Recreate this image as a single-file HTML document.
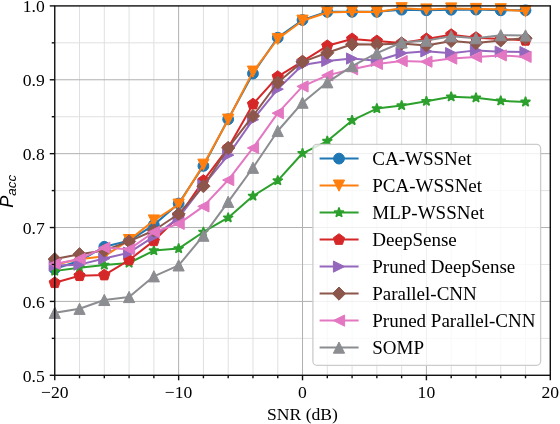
<!DOCTYPE html>
<html><head><meta charset="utf-8"><style>
html,body{margin:0;padding:0;background:#fff;}
body{width:560px;height:424px;overflow:hidden;}
svg{display:block;will-change:transform;}
text{font-family:"Liberation Serif",serif;fill:#000;}
</style></head><body>
<svg width="560" height="424" viewBox="0 0 560 424">
<rect x="0" y="0" width="560" height="424" fill="#fff"/>

<line x1="79.53" y1="5.9" x2="79.53" y2="375.3" stroke="#dfe0e2" stroke-width="1"/>
<line x1="104.3" y1="5.9" x2="104.3" y2="375.3" stroke="#dfe0e2" stroke-width="1"/>
<line x1="129.08" y1="5.9" x2="129.08" y2="375.3" stroke="#dfe0e2" stroke-width="1"/>
<line x1="153.86" y1="5.9" x2="153.86" y2="375.3" stroke="#dfe0e2" stroke-width="1"/>
<line x1="203.41" y1="5.9" x2="203.41" y2="375.3" stroke="#dfe0e2" stroke-width="1"/>
<line x1="228.19" y1="5.9" x2="228.19" y2="375.3" stroke="#dfe0e2" stroke-width="1"/>
<line x1="252.97" y1="5.9" x2="252.97" y2="375.3" stroke="#dfe0e2" stroke-width="1"/>
<line x1="277.75" y1="5.9" x2="277.75" y2="375.3" stroke="#dfe0e2" stroke-width="1"/>
<line x1="327.3" y1="5.9" x2="327.3" y2="375.3" stroke="#dfe0e2" stroke-width="1"/>
<line x1="352.08" y1="5.9" x2="352.08" y2="375.3" stroke="#dfe0e2" stroke-width="1"/>
<line x1="376.86" y1="5.9" x2="376.86" y2="375.3" stroke="#dfe0e2" stroke-width="1"/>
<line x1="401.63" y1="5.9" x2="401.63" y2="375.3" stroke="#dfe0e2" stroke-width="1"/>
<line x1="451.19" y1="5.9" x2="451.19" y2="375.3" stroke="#dfe0e2" stroke-width="1"/>
<line x1="475.97" y1="5.9" x2="475.97" y2="375.3" stroke="#dfe0e2" stroke-width="1"/>
<line x1="500.75" y1="5.9" x2="500.75" y2="375.3" stroke="#dfe0e2" stroke-width="1"/>
<line x1="525.52" y1="5.9" x2="525.52" y2="375.3" stroke="#dfe0e2" stroke-width="1"/>
<line x1="54.75" y1="338.36" x2="550.3" y2="338.36" stroke="#dfe0e2" stroke-width="1"/>
<line x1="54.75" y1="264.48" x2="550.3" y2="264.48" stroke="#dfe0e2" stroke-width="1"/>
<line x1="54.75" y1="190.6" x2="550.3" y2="190.6" stroke="#dfe0e2" stroke-width="1"/>
<line x1="54.75" y1="116.72" x2="550.3" y2="116.72" stroke="#dfe0e2" stroke-width="1"/>
<line x1="54.75" y1="42.84" x2="550.3" y2="42.84" stroke="#dfe0e2" stroke-width="1"/>
<line x1="178.64" y1="5.9" x2="178.64" y2="375.3" stroke="#b0b0b0" stroke-width="1"/>
<line x1="302.52" y1="5.9" x2="302.52" y2="375.3" stroke="#b0b0b0" stroke-width="1"/>
<line x1="426.41" y1="5.9" x2="426.41" y2="375.3" stroke="#b0b0b0" stroke-width="1"/>
<line x1="54.75" y1="301.42" x2="550.3" y2="301.42" stroke="#b0b0b0" stroke-width="1"/>
<line x1="54.75" y1="227.54" x2="550.3" y2="227.54" stroke="#b0b0b0" stroke-width="1"/>
<line x1="54.75" y1="153.66" x2="550.3" y2="153.66" stroke="#b0b0b0" stroke-width="1"/>
<line x1="54.75" y1="79.78" x2="550.3" y2="79.78" stroke="#b0b0b0" stroke-width="1"/>
<polyline points="54.75,268.91 79.53,260.79 104.3,246.75 129.08,240.84 153.86,224.88 178.64,203.53 203.41,165.92 228.19,119.23 252.97,73.57 277.75,37.67 302.52,20.01 327.3,11.81 352.08,11.81 376.86,11.81 401.63,9.67 426.41,10.33 451.19,9.74 475.97,9.59 500.75,10.33 525.52,10.33" fill="none" stroke="#1f77b4" stroke-width="2.0" stroke-linejoin="round" stroke-linecap="square"/>
<g><circle cx="54.75" cy="268.91" r="5.4" fill="#1f77b4" stroke="#1f77b4" stroke-width="1.0" stroke-linejoin="miter"/><circle cx="79.53" cy="260.79" r="5.4" fill="#1f77b4" stroke="#1f77b4" stroke-width="1.0" stroke-linejoin="miter"/><circle cx="104.3" cy="246.75" r="5.4" fill="#1f77b4" stroke="#1f77b4" stroke-width="1.0" stroke-linejoin="miter"/><circle cx="129.08" cy="240.84" r="5.4" fill="#1f77b4" stroke="#1f77b4" stroke-width="1.0" stroke-linejoin="miter"/><circle cx="153.86" cy="224.88" r="5.4" fill="#1f77b4" stroke="#1f77b4" stroke-width="1.0" stroke-linejoin="miter"/><circle cx="178.64" cy="203.53" r="5.4" fill="#1f77b4" stroke="#1f77b4" stroke-width="1.0" stroke-linejoin="miter"/><circle cx="203.41" cy="165.92" r="5.4" fill="#1f77b4" stroke="#1f77b4" stroke-width="1.0" stroke-linejoin="miter"/><circle cx="228.19" cy="119.23" r="5.4" fill="#1f77b4" stroke="#1f77b4" stroke-width="1.0" stroke-linejoin="miter"/><circle cx="252.97" cy="73.57" r="5.4" fill="#1f77b4" stroke="#1f77b4" stroke-width="1.0" stroke-linejoin="miter"/><circle cx="277.75" cy="37.67" r="5.4" fill="#1f77b4" stroke="#1f77b4" stroke-width="1.0" stroke-linejoin="miter"/><circle cx="302.52" cy="20.01" r="5.4" fill="#1f77b4" stroke="#1f77b4" stroke-width="1.0" stroke-linejoin="miter"/><circle cx="327.3" cy="11.81" r="5.4" fill="#1f77b4" stroke="#1f77b4" stroke-width="1.0" stroke-linejoin="miter"/><circle cx="352.08" cy="11.81" r="5.4" fill="#1f77b4" stroke="#1f77b4" stroke-width="1.0" stroke-linejoin="miter"/><circle cx="376.86" cy="11.81" r="5.4" fill="#1f77b4" stroke="#1f77b4" stroke-width="1.0" stroke-linejoin="miter"/><circle cx="401.63" cy="9.67" r="5.4" fill="#1f77b4" stroke="#1f77b4" stroke-width="1.0" stroke-linejoin="miter"/><circle cx="426.41" cy="10.33" r="5.4" fill="#1f77b4" stroke="#1f77b4" stroke-width="1.0" stroke-linejoin="miter"/><circle cx="451.19" cy="9.74" r="5.4" fill="#1f77b4" stroke="#1f77b4" stroke-width="1.0" stroke-linejoin="miter"/><circle cx="475.97" cy="9.59" r="5.4" fill="#1f77b4" stroke="#1f77b4" stroke-width="1.0" stroke-linejoin="miter"/><circle cx="500.75" cy="10.33" r="5.4" fill="#1f77b4" stroke="#1f77b4" stroke-width="1.0" stroke-linejoin="miter"/><circle cx="525.52" cy="10.33" r="5.4" fill="#1f77b4" stroke="#1f77b4" stroke-width="1.0" stroke-linejoin="miter"/></g>
<polyline points="54.75,264.48 79.53,259.31 104.3,256.35 129.08,240.1 153.86,220.52 178.64,204.64 203.41,164.74 228.19,119.68 252.97,71.65 277.75,39 302.52,20.68 327.3,12.55 352.08,11.81 376.86,12.11 401.63,8.26 426.41,9.52 451.19,8.49 475.97,9 500.75,9.3 525.52,11.29" fill="none" stroke="#ff7f0e" stroke-width="2.0" stroke-linejoin="round" stroke-linecap="square"/>
<g><polygon points="54.75,270.08 49.15,258.88 60.35,258.88" fill="#ff7f0e" stroke="#ff7f0e" stroke-width="1.0" stroke-linejoin="miter"/><polygon points="79.53,264.91 73.93,253.71 85.13,253.71" fill="#ff7f0e" stroke="#ff7f0e" stroke-width="1.0" stroke-linejoin="miter"/><polygon points="104.3,261.95 98.7,250.75 109.9,250.75" fill="#ff7f0e" stroke="#ff7f0e" stroke-width="1.0" stroke-linejoin="miter"/><polygon points="129.08,245.7 123.48,234.5 134.68,234.5" fill="#ff7f0e" stroke="#ff7f0e" stroke-width="1.0" stroke-linejoin="miter"/><polygon points="153.86,226.12 148.26,214.92 159.46,214.92" fill="#ff7f0e" stroke="#ff7f0e" stroke-width="1.0" stroke-linejoin="miter"/><polygon points="178.64,210.24 173.04,199.04 184.24,199.04" fill="#ff7f0e" stroke="#ff7f0e" stroke-width="1.0" stroke-linejoin="miter"/><polygon points="203.41,170.34 197.81,159.14 209.01,159.14" fill="#ff7f0e" stroke="#ff7f0e" stroke-width="1.0" stroke-linejoin="miter"/><polygon points="228.19,125.28 222.59,114.08 233.79,114.08" fill="#ff7f0e" stroke="#ff7f0e" stroke-width="1.0" stroke-linejoin="miter"/><polygon points="252.97,77.25 247.37,66.05 258.57,66.05" fill="#ff7f0e" stroke="#ff7f0e" stroke-width="1.0" stroke-linejoin="miter"/><polygon points="277.75,44.6 272.15,33.4 283.35,33.4" fill="#ff7f0e" stroke="#ff7f0e" stroke-width="1.0" stroke-linejoin="miter"/><polygon points="302.52,26.28 296.92,15.08 308.12,15.08" fill="#ff7f0e" stroke="#ff7f0e" stroke-width="1.0" stroke-linejoin="miter"/><polygon points="327.3,18.15 321.7,6.95 332.9,6.95" fill="#ff7f0e" stroke="#ff7f0e" stroke-width="1.0" stroke-linejoin="miter"/><polygon points="352.08,17.41 346.48,6.21 357.68,6.21" fill="#ff7f0e" stroke="#ff7f0e" stroke-width="1.0" stroke-linejoin="miter"/><polygon points="376.86,17.71 371.26,6.51 382.46,6.51" fill="#ff7f0e" stroke="#ff7f0e" stroke-width="1.0" stroke-linejoin="miter"/><polygon points="401.63,13.86 396.03,2.66 407.23,2.66" fill="#ff7f0e" stroke="#ff7f0e" stroke-width="1.0" stroke-linejoin="miter"/><polygon points="426.41,15.12 420.81,3.92 432.01,3.92" fill="#ff7f0e" stroke="#ff7f0e" stroke-width="1.0" stroke-linejoin="miter"/><polygon points="451.19,14.09 445.59,2.89 456.79,2.89" fill="#ff7f0e" stroke="#ff7f0e" stroke-width="1.0" stroke-linejoin="miter"/><polygon points="475.97,14.6 470.37,3.4 481.57,3.4" fill="#ff7f0e" stroke="#ff7f0e" stroke-width="1.0" stroke-linejoin="miter"/><polygon points="500.75,14.9 495.14,3.7 506.35,3.7" fill="#ff7f0e" stroke="#ff7f0e" stroke-width="1.0" stroke-linejoin="miter"/><polygon points="525.52,16.89 519.92,5.69 531.12,5.69" fill="#ff7f0e" stroke="#ff7f0e" stroke-width="1.0" stroke-linejoin="miter"/></g>
<polyline points="54.75,270.98 79.53,267.8 104.3,265 129.08,263 153.86,250.59 178.64,248.6 203.41,231.97 228.19,217.71 252.97,196.07 277.75,180.63 302.52,153.29 327.3,141.1 352.08,120.41 376.86,108.59 401.63,105.49 426.41,101.21 451.19,96.77 475.97,97.73 500.75,100.84 525.52,101.94" fill="none" stroke="#2ca02c" stroke-width="2.0" stroke-linejoin="round" stroke-linecap="square"/>
<g><polygon points="54.75,265.88 55.9,269.41 59.6,269.41 56.6,271.58 57.75,275.11 54.75,272.93 51.75,275.11 52.9,271.58 49.9,269.41 53.6,269.41" fill="#2ca02c" stroke="#2ca02c" stroke-width="1.5" stroke-linejoin="bevel"/><polygon points="79.53,262.7 80.67,266.23 84.38,266.23 81.38,268.41 82.53,271.93 79.53,269.75 76.53,271.93 77.67,268.41 74.68,266.23 78.38,266.23" fill="#2ca02c" stroke="#2ca02c" stroke-width="1.5" stroke-linejoin="bevel"/><polygon points="104.3,259.9 105.45,263.42 109.16,263.42 106.16,265.6 107.3,269.12 104.3,266.95 101.31,269.12 102.45,265.6 99.45,263.42 103.16,263.42" fill="#2ca02c" stroke="#2ca02c" stroke-width="1.5" stroke-linejoin="bevel"/><polygon points="129.08,257.9 130.23,261.43 133.93,261.43 130.94,263.6 132.08,267.13 129.08,264.95 126.08,267.13 127.23,263.6 124.23,261.43 127.94,261.43" fill="#2ca02c" stroke="#2ca02c" stroke-width="1.5" stroke-linejoin="bevel"/><polygon points="153.86,245.49 155.01,249.01 158.71,249.01 155.71,251.19 156.86,254.72 153.86,252.54 150.86,254.72 152.01,251.19 149.01,249.01 152.71,249.01" fill="#2ca02c" stroke="#2ca02c" stroke-width="1.5" stroke-linejoin="bevel"/><polygon points="178.64,243.5 179.78,247.02 183.49,247.02 180.49,249.2 181.64,252.72 178.64,250.54 175.64,252.72 176.78,249.2 173.79,247.02 177.49,247.02" fill="#2ca02c" stroke="#2ca02c" stroke-width="1.5" stroke-linejoin="bevel"/><polygon points="203.41,226.87 204.56,230.4 208.27,230.4 205.27,232.57 206.41,236.1 203.41,233.92 200.42,236.1 201.56,232.57 198.56,230.4 202.27,230.4" fill="#2ca02c" stroke="#2ca02c" stroke-width="1.5" stroke-linejoin="bevel"/><polygon points="228.19,212.61 229.34,216.14 233.04,216.14 230.05,218.32 231.19,221.84 228.19,219.66 225.19,221.84 226.34,218.32 223.34,216.14 227.05,216.14" fill="#2ca02c" stroke="#2ca02c" stroke-width="1.5" stroke-linejoin="bevel"/><polygon points="252.97,190.97 254.12,194.49 257.82,194.49 254.82,196.67 255.97,200.19 252.97,198.02 249.97,200.19 251.12,196.67 248.12,194.49 251.82,194.49" fill="#2ca02c" stroke="#2ca02c" stroke-width="1.5" stroke-linejoin="bevel"/><polygon points="277.75,175.53 278.89,179.05 282.6,179.05 279.6,181.23 280.75,184.75 277.75,182.57 274.75,184.75 275.89,181.23 272.9,179.05 276.6,179.05" fill="#2ca02c" stroke="#2ca02c" stroke-width="1.5" stroke-linejoin="bevel"/><polygon points="302.52,148.19 303.67,151.71 307.38,151.71 304.38,153.89 305.52,157.42 302.52,155.24 299.53,157.42 300.67,153.89 297.67,151.71 301.38,151.71" fill="#2ca02c" stroke="#2ca02c" stroke-width="1.5" stroke-linejoin="bevel"/><polygon points="327.3,136 328.45,139.52 332.15,139.52 329.16,141.7 330.3,145.23 327.3,143.05 324.3,145.23 325.45,141.7 322.45,139.52 326.16,139.52" fill="#2ca02c" stroke="#2ca02c" stroke-width="1.5" stroke-linejoin="bevel"/><polygon points="352.08,115.31 353.23,118.84 356.93,118.84 353.93,121.02 355.08,124.54 352.08,122.36 349.08,124.54 350.23,121.02 347.23,118.84 350.93,118.84" fill="#2ca02c" stroke="#2ca02c" stroke-width="1.5" stroke-linejoin="bevel"/><polygon points="376.86,103.49 378,107.02 381.71,107.02 378.71,109.2 379.86,112.72 376.86,110.54 373.86,112.72 375,109.2 372.01,107.02 375.71,107.02" fill="#2ca02c" stroke="#2ca02c" stroke-width="1.5" stroke-linejoin="bevel"/><polygon points="401.63,100.39 402.78,103.91 406.49,103.91 403.49,106.09 404.63,109.62 401.63,107.44 398.64,109.62 399.78,106.09 396.78,103.91 400.49,103.91" fill="#2ca02c" stroke="#2ca02c" stroke-width="1.5" stroke-linejoin="bevel"/><polygon points="426.41,96.11 427.56,99.63 431.26,99.63 428.27,101.81 429.41,105.33 426.41,103.15 423.41,105.33 424.56,101.81 421.56,99.63 425.27,99.63" fill="#2ca02c" stroke="#2ca02c" stroke-width="1.5" stroke-linejoin="bevel"/><polygon points="451.19,91.67 452.34,95.2 456.04,95.2 453.04,97.37 454.19,100.9 451.19,98.72 448.19,100.9 449.34,97.37 446.34,95.2 450.04,95.2" fill="#2ca02c" stroke="#2ca02c" stroke-width="1.5" stroke-linejoin="bevel"/><polygon points="475.97,92.63 477.11,96.16 480.82,96.16 477.82,98.33 478.97,101.86 475.97,99.68 472.97,101.86 474.11,98.33 471.12,96.16 474.82,96.16" fill="#2ca02c" stroke="#2ca02c" stroke-width="1.5" stroke-linejoin="bevel"/><polygon points="500.75,95.74 501.89,99.26 505.6,99.26 502.6,101.44 503.74,104.96 500.75,102.78 497.75,104.96 498.89,101.44 495.89,99.26 499.6,99.26" fill="#2ca02c" stroke="#2ca02c" stroke-width="1.5" stroke-linejoin="bevel"/><polygon points="525.52,96.84 526.67,100.37 530.37,100.37 527.38,102.55 528.52,106.07 525.52,103.89 522.52,106.07 523.67,102.55 520.67,100.37 524.38,100.37" fill="#2ca02c" stroke="#2ca02c" stroke-width="1.5" stroke-linejoin="bevel"/></g>
<polyline points="54.75,282.8 79.53,275.78 104.3,275.12 129.08,260.05 153.86,240.84 178.64,216.83 203.41,180.63 228.19,147.75 252.97,104.16 277.75,76.68 302.52,61.31 327.3,45.8 352.08,38.92 376.86,40.99 401.63,43.06 426.41,38.92 451.19,34.71 475.97,37.67 500.75,38.92 525.52,40.4" fill="none" stroke="#d62728" stroke-width="2.0" stroke-linejoin="round" stroke-linecap="square"/>
<g><polygon points="54.75,276.9 60.36,280.98 58.22,287.58 51.28,287.58 49.14,280.98" fill="#d62728" stroke="#d62728" stroke-width="1.0" stroke-linejoin="miter"/><polygon points="79.53,269.88 85.14,273.96 83,280.56 76.06,280.56 73.92,273.96" fill="#d62728" stroke="#d62728" stroke-width="1.0" stroke-linejoin="miter"/><polygon points="104.3,269.22 109.92,273.3 107.77,279.89 100.84,279.89 98.69,273.3" fill="#d62728" stroke="#d62728" stroke-width="1.0" stroke-linejoin="miter"/><polygon points="129.08,254.15 134.69,258.22 132.55,264.82 125.61,264.82 123.47,258.22" fill="#d62728" stroke="#d62728" stroke-width="1.0" stroke-linejoin="miter"/><polygon points="153.86,234.94 159.47,239.02 157.33,245.61 150.39,245.61 148.25,239.02" fill="#d62728" stroke="#d62728" stroke-width="1.0" stroke-linejoin="miter"/><polygon points="178.64,210.93 184.25,215 182.11,221.6 175.17,221.6 173.03,215" fill="#d62728" stroke="#d62728" stroke-width="1.0" stroke-linejoin="miter"/><polygon points="203.41,174.73 209.03,178.8 206.88,185.4 199.95,185.4 197.8,178.8" fill="#d62728" stroke="#d62728" stroke-width="1.0" stroke-linejoin="miter"/><polygon points="228.19,141.85 233.8,145.93 231.66,152.52 224.72,152.52 222.58,145.93" fill="#d62728" stroke="#d62728" stroke-width="1.0" stroke-linejoin="miter"/><polygon points="252.97,98.26 258.58,102.34 256.44,108.93 249.5,108.93 247.36,102.34" fill="#d62728" stroke="#d62728" stroke-width="1.0" stroke-linejoin="miter"/><polygon points="277.75,70.78 283.36,74.85 281.22,81.45 274.28,81.45 272.14,74.85" fill="#d62728" stroke="#d62728" stroke-width="1.0" stroke-linejoin="miter"/><polygon points="302.52,55.41 308.14,59.49 305.99,66.08 299.06,66.08 296.91,59.49" fill="#d62728" stroke="#d62728" stroke-width="1.0" stroke-linejoin="miter"/><polygon points="327.3,39.9 332.91,43.97 330.77,50.57 323.83,50.57 321.69,43.97" fill="#d62728" stroke="#d62728" stroke-width="1.0" stroke-linejoin="miter"/><polygon points="352.08,33.02 357.69,37.1 355.55,43.7 348.61,43.7 346.47,37.1" fill="#d62728" stroke="#d62728" stroke-width="1.0" stroke-linejoin="miter"/><polygon points="376.86,35.09 382.47,39.17 380.33,45.77 373.39,45.77 371.25,39.17" fill="#d62728" stroke="#d62728" stroke-width="1.0" stroke-linejoin="miter"/><polygon points="401.63,37.16 407.25,41.24 405.1,47.83 398.17,47.83 396.02,41.24" fill="#d62728" stroke="#d62728" stroke-width="1.0" stroke-linejoin="miter"/><polygon points="426.41,33.02 432.02,37.1 429.88,43.7 422.94,43.7 420.8,37.1" fill="#d62728" stroke="#d62728" stroke-width="1.0" stroke-linejoin="miter"/><polygon points="451.19,28.81 456.8,32.89 454.66,39.49 447.72,39.49 445.58,32.89" fill="#d62728" stroke="#d62728" stroke-width="1.0" stroke-linejoin="miter"/><polygon points="475.97,31.77 481.58,35.85 479.44,42.44 472.5,42.44 470.36,35.85" fill="#d62728" stroke="#d62728" stroke-width="1.0" stroke-linejoin="miter"/><polygon points="500.75,33.02 506.36,37.1 504.21,43.7 497.28,43.7 495.13,37.1" fill="#d62728" stroke="#d62728" stroke-width="1.0" stroke-linejoin="miter"/><polygon points="525.52,34.5 531.13,38.58 528.99,45.18 522.05,45.18 519.91,38.58" fill="#d62728" stroke="#d62728" stroke-width="1.0" stroke-linejoin="miter"/></g>
<polyline points="54.75,265.59 79.53,264.63 104.3,258.57 129.08,252.66 153.86,236.63 178.64,217.71 203.41,185.43 228.19,155.14 252.97,119.68 277.75,89.16 302.52,64.93 327.3,60.94 352.08,58.58 376.86,60.72 401.63,53.18 426.41,51.34 451.19,53.18 475.97,50.38 500.75,51.71 525.52,52.07" fill="none" stroke="#9467bd" stroke-width="2.0" stroke-linejoin="round" stroke-linecap="square"/>
<g><polygon points="60.35,265.59 49.15,259.99 49.15,271.19" fill="#9467bd" stroke="#9467bd" stroke-width="1.0" stroke-linejoin="miter"/><polygon points="85.13,264.63 73.93,259.03 73.93,270.23" fill="#9467bd" stroke="#9467bd" stroke-width="1.0" stroke-linejoin="miter"/><polygon points="109.9,258.57 98.7,252.97 98.7,264.17" fill="#9467bd" stroke="#9467bd" stroke-width="1.0" stroke-linejoin="miter"/><polygon points="134.68,252.66 123.48,247.06 123.48,258.26" fill="#9467bd" stroke="#9467bd" stroke-width="1.0" stroke-linejoin="miter"/><polygon points="159.46,236.63 148.26,231.03 148.26,242.23" fill="#9467bd" stroke="#9467bd" stroke-width="1.0" stroke-linejoin="miter"/><polygon points="184.24,217.71 173.04,212.11 173.04,223.31" fill="#9467bd" stroke="#9467bd" stroke-width="1.0" stroke-linejoin="miter"/><polygon points="209.01,185.43 197.81,179.83 197.81,191.03" fill="#9467bd" stroke="#9467bd" stroke-width="1.0" stroke-linejoin="miter"/><polygon points="233.79,155.14 222.59,149.54 222.59,160.74" fill="#9467bd" stroke="#9467bd" stroke-width="1.0" stroke-linejoin="miter"/><polygon points="258.57,119.68 247.37,114.08 247.37,125.28" fill="#9467bd" stroke="#9467bd" stroke-width="1.0" stroke-linejoin="miter"/><polygon points="283.35,89.16 272.15,83.56 272.15,94.76" fill="#9467bd" stroke="#9467bd" stroke-width="1.0" stroke-linejoin="miter"/><polygon points="308.12,64.93 296.92,59.33 296.92,70.53" fill="#9467bd" stroke="#9467bd" stroke-width="1.0" stroke-linejoin="miter"/><polygon points="332.9,60.94 321.7,55.34 321.7,66.54" fill="#9467bd" stroke="#9467bd" stroke-width="1.0" stroke-linejoin="miter"/><polygon points="357.68,58.58 346.48,52.98 346.48,64.18" fill="#9467bd" stroke="#9467bd" stroke-width="1.0" stroke-linejoin="miter"/><polygon points="382.46,60.72 371.26,55.12 371.26,66.32" fill="#9467bd" stroke="#9467bd" stroke-width="1.0" stroke-linejoin="miter"/><polygon points="407.23,53.18 396.03,47.58 396.03,58.78" fill="#9467bd" stroke="#9467bd" stroke-width="1.0" stroke-linejoin="miter"/><polygon points="432.01,51.34 420.81,45.74 420.81,56.94" fill="#9467bd" stroke="#9467bd" stroke-width="1.0" stroke-linejoin="miter"/><polygon points="456.79,53.18 445.59,47.58 445.59,58.78" fill="#9467bd" stroke="#9467bd" stroke-width="1.0" stroke-linejoin="miter"/><polygon points="481.57,50.38 470.37,44.78 470.37,55.98" fill="#9467bd" stroke="#9467bd" stroke-width="1.0" stroke-linejoin="miter"/><polygon points="506.35,51.71 495.14,46.11 495.14,57.31" fill="#9467bd" stroke="#9467bd" stroke-width="1.0" stroke-linejoin="miter"/><polygon points="531.12,52.07 519.92,46.47 519.92,57.67" fill="#9467bd" stroke="#9467bd" stroke-width="1.0" stroke-linejoin="miter"/></g>
<polyline points="54.75,259.09 79.53,254.21 104.3,250.44 129.08,241.43 153.86,230.5 178.64,214.02 203.41,186.17 228.19,147.97 252.97,115.98 277.75,82.51 302.52,61.83 327.3,52.81 352.08,44.32 376.86,44.61 401.63,43.58 426.41,45.43 451.19,40.99 475.97,43.06 500.75,40.4 525.52,38.19" fill="none" stroke="#8c564b" stroke-width="2.0" stroke-linejoin="round" stroke-linecap="square"/>
<g><polygon points="54.75,252.49 61.35,259.09 54.75,265.69 48.15,259.09" fill="#8c564b" stroke="#8c564b" stroke-width="1.0" stroke-linejoin="miter"/><polygon points="79.53,247.61 86.13,254.21 79.53,260.81 72.93,254.21" fill="#8c564b" stroke="#8c564b" stroke-width="1.0" stroke-linejoin="miter"/><polygon points="104.3,243.84 110.9,250.44 104.3,257.04 97.7,250.44" fill="#8c564b" stroke="#8c564b" stroke-width="1.0" stroke-linejoin="miter"/><polygon points="129.08,234.83 135.68,241.43 129.08,248.03 122.48,241.43" fill="#8c564b" stroke="#8c564b" stroke-width="1.0" stroke-linejoin="miter"/><polygon points="153.86,223.9 160.46,230.5 153.86,237.1 147.26,230.5" fill="#8c564b" stroke="#8c564b" stroke-width="1.0" stroke-linejoin="miter"/><polygon points="178.64,207.42 185.24,214.02 178.64,220.62 172.04,214.02" fill="#8c564b" stroke="#8c564b" stroke-width="1.0" stroke-linejoin="miter"/><polygon points="203.41,179.57 210.01,186.17 203.41,192.77 196.81,186.17" fill="#8c564b" stroke="#8c564b" stroke-width="1.0" stroke-linejoin="miter"/><polygon points="228.19,141.37 234.79,147.97 228.19,154.57 221.59,147.97" fill="#8c564b" stroke="#8c564b" stroke-width="1.0" stroke-linejoin="miter"/><polygon points="252.97,109.38 259.57,115.98 252.97,122.58 246.37,115.98" fill="#8c564b" stroke="#8c564b" stroke-width="1.0" stroke-linejoin="miter"/><polygon points="277.75,75.91 284.35,82.51 277.75,89.11 271.15,82.51" fill="#8c564b" stroke="#8c564b" stroke-width="1.0" stroke-linejoin="miter"/><polygon points="302.52,55.23 309.12,61.83 302.52,68.43 295.92,61.83" fill="#8c564b" stroke="#8c564b" stroke-width="1.0" stroke-linejoin="miter"/><polygon points="327.3,46.21 333.9,52.81 327.3,59.41 320.7,52.81" fill="#8c564b" stroke="#8c564b" stroke-width="1.0" stroke-linejoin="miter"/><polygon points="352.08,37.72 358.68,44.32 352.08,50.92 345.48,44.32" fill="#8c564b" stroke="#8c564b" stroke-width="1.0" stroke-linejoin="miter"/><polygon points="376.86,38.01 383.46,44.61 376.86,51.21 370.26,44.61" fill="#8c564b" stroke="#8c564b" stroke-width="1.0" stroke-linejoin="miter"/><polygon points="401.63,36.98 408.23,43.58 401.63,50.18 395.03,43.58" fill="#8c564b" stroke="#8c564b" stroke-width="1.0" stroke-linejoin="miter"/><polygon points="426.41,38.83 433.01,45.43 426.41,52.03 419.81,45.43" fill="#8c564b" stroke="#8c564b" stroke-width="1.0" stroke-linejoin="miter"/><polygon points="451.19,34.39 457.79,40.99 451.19,47.59 444.59,40.99" fill="#8c564b" stroke="#8c564b" stroke-width="1.0" stroke-linejoin="miter"/><polygon points="475.97,36.46 482.57,43.06 475.97,49.66 469.37,43.06" fill="#8c564b" stroke="#8c564b" stroke-width="1.0" stroke-linejoin="miter"/><polygon points="500.75,33.8 507.35,40.4 500.75,47 494.14,40.4" fill="#8c564b" stroke="#8c564b" stroke-width="1.0" stroke-linejoin="miter"/><polygon points="525.52,31.59 532.12,38.19 525.52,44.79 518.92,38.19" fill="#8c564b" stroke="#8c564b" stroke-width="1.0" stroke-linejoin="miter"/></g>
<polyline points="54.75,263.96 79.53,258.94 104.3,247.71 129.08,249.33 153.86,231.97 178.64,223.85 203.41,206.41 228.19,180.04 252.97,147.97 277.75,113.17 302.52,86.43 327.3,75.35 352.08,69.29 376.86,63.9 401.63,61.09 426.41,61.68 451.19,58.58 475.97,56.88 500.75,55.4 525.52,56.88" fill="none" stroke="#e377c2" stroke-width="2.0" stroke-linejoin="round" stroke-linecap="square"/>
<g><polygon points="49.15,263.96 60.35,258.36 60.35,269.56" fill="#e377c2" stroke="#e377c2" stroke-width="1.0" stroke-linejoin="miter"/><polygon points="73.93,258.94 85.13,253.34 85.13,264.54" fill="#e377c2" stroke="#e377c2" stroke-width="1.0" stroke-linejoin="miter"/><polygon points="98.7,247.71 109.9,242.11 109.9,253.31" fill="#e377c2" stroke="#e377c2" stroke-width="1.0" stroke-linejoin="miter"/><polygon points="123.48,249.33 134.68,243.73 134.68,254.93" fill="#e377c2" stroke="#e377c2" stroke-width="1.0" stroke-linejoin="miter"/><polygon points="148.26,231.97 159.46,226.37 159.46,237.57" fill="#e377c2" stroke="#e377c2" stroke-width="1.0" stroke-linejoin="miter"/><polygon points="173.04,223.85 184.24,218.25 184.24,229.45" fill="#e377c2" stroke="#e377c2" stroke-width="1.0" stroke-linejoin="miter"/><polygon points="197.81,206.41 209.01,200.81 209.01,212.01" fill="#e377c2" stroke="#e377c2" stroke-width="1.0" stroke-linejoin="miter"/><polygon points="222.59,180.04 233.79,174.44 233.79,185.64" fill="#e377c2" stroke="#e377c2" stroke-width="1.0" stroke-linejoin="miter"/><polygon points="247.37,147.97 258.57,142.37 258.57,153.57" fill="#e377c2" stroke="#e377c2" stroke-width="1.0" stroke-linejoin="miter"/><polygon points="272.15,113.17 283.35,107.57 283.35,118.77" fill="#e377c2" stroke="#e377c2" stroke-width="1.0" stroke-linejoin="miter"/><polygon points="296.92,86.43 308.12,80.83 308.12,92.03" fill="#e377c2" stroke="#e377c2" stroke-width="1.0" stroke-linejoin="miter"/><polygon points="321.7,75.35 332.9,69.75 332.9,80.95" fill="#e377c2" stroke="#e377c2" stroke-width="1.0" stroke-linejoin="miter"/><polygon points="346.48,69.29 357.68,63.69 357.68,74.89" fill="#e377c2" stroke="#e377c2" stroke-width="1.0" stroke-linejoin="miter"/><polygon points="371.26,63.9 382.46,58.3 382.46,69.5" fill="#e377c2" stroke="#e377c2" stroke-width="1.0" stroke-linejoin="miter"/><polygon points="396.03,61.09 407.23,55.49 407.23,66.69" fill="#e377c2" stroke="#e377c2" stroke-width="1.0" stroke-linejoin="miter"/><polygon points="420.81,61.68 432.01,56.08 432.01,67.28" fill="#e377c2" stroke="#e377c2" stroke-width="1.0" stroke-linejoin="miter"/><polygon points="445.59,58.58 456.79,52.98 456.79,64.18" fill="#e377c2" stroke="#e377c2" stroke-width="1.0" stroke-linejoin="miter"/><polygon points="470.37,56.88 481.57,51.28 481.57,62.48" fill="#e377c2" stroke="#e377c2" stroke-width="1.0" stroke-linejoin="miter"/><polygon points="495.14,55.4 506.35,49.8 506.35,61" fill="#e377c2" stroke="#e377c2" stroke-width="1.0" stroke-linejoin="miter"/><polygon points="519.92,56.88 531.12,51.28 531.12,62.48" fill="#e377c2" stroke="#e377c2" stroke-width="1.0" stroke-linejoin="miter"/></g>
<polyline points="54.75,312.8 79.53,308.81 104.3,299.94 129.08,296.99 153.86,276.3 178.64,265.37 203.41,235.67 228.19,201.83 252.97,167.77 277.75,130.98 302.52,102.68 327.3,82.29 352.08,66.11 376.86,53.18 401.63,42.47 426.41,40.62 451.19,36.19 475.97,38.19 500.75,35.16 525.52,35.45" fill="none" stroke="#8c8d91" stroke-width="2.0" stroke-linejoin="round" stroke-linecap="square"/>
<g><polygon points="54.75,307.2 49.15,318.4 60.35,318.4" fill="#8c8d91" stroke="#8c8d91" stroke-width="1.0" stroke-linejoin="miter"/><polygon points="79.53,303.21 73.93,314.41 85.13,314.41" fill="#8c8d91" stroke="#8c8d91" stroke-width="1.0" stroke-linejoin="miter"/><polygon points="104.3,294.34 98.7,305.54 109.9,305.54" fill="#8c8d91" stroke="#8c8d91" stroke-width="1.0" stroke-linejoin="miter"/><polygon points="129.08,291.39 123.48,302.59 134.68,302.59" fill="#8c8d91" stroke="#8c8d91" stroke-width="1.0" stroke-linejoin="miter"/><polygon points="153.86,270.7 148.26,281.9 159.46,281.9" fill="#8c8d91" stroke="#8c8d91" stroke-width="1.0" stroke-linejoin="miter"/><polygon points="178.64,259.77 173.04,270.97 184.24,270.97" fill="#8c8d91" stroke="#8c8d91" stroke-width="1.0" stroke-linejoin="miter"/><polygon points="203.41,230.07 197.81,241.27 209.01,241.27" fill="#8c8d91" stroke="#8c8d91" stroke-width="1.0" stroke-linejoin="miter"/><polygon points="228.19,196.23 222.59,207.43 233.79,207.43" fill="#8c8d91" stroke="#8c8d91" stroke-width="1.0" stroke-linejoin="miter"/><polygon points="252.97,162.17 247.37,173.37 258.57,173.37" fill="#8c8d91" stroke="#8c8d91" stroke-width="1.0" stroke-linejoin="miter"/><polygon points="277.75,125.38 272.15,136.58 283.35,136.58" fill="#8c8d91" stroke="#8c8d91" stroke-width="1.0" stroke-linejoin="miter"/><polygon points="302.52,97.08 296.92,108.28 308.12,108.28" fill="#8c8d91" stroke="#8c8d91" stroke-width="1.0" stroke-linejoin="miter"/><polygon points="327.3,76.69 321.7,87.89 332.9,87.89" fill="#8c8d91" stroke="#8c8d91" stroke-width="1.0" stroke-linejoin="miter"/><polygon points="352.08,60.51 346.48,71.71 357.68,71.71" fill="#8c8d91" stroke="#8c8d91" stroke-width="1.0" stroke-linejoin="miter"/><polygon points="376.86,47.58 371.26,58.78 382.46,58.78" fill="#8c8d91" stroke="#8c8d91" stroke-width="1.0" stroke-linejoin="miter"/><polygon points="401.63,36.87 396.03,48.07 407.23,48.07" fill="#8c8d91" stroke="#8c8d91" stroke-width="1.0" stroke-linejoin="miter"/><polygon points="426.41,35.02 420.81,46.22 432.01,46.22" fill="#8c8d91" stroke="#8c8d91" stroke-width="1.0" stroke-linejoin="miter"/><polygon points="451.19,30.59 445.59,41.79 456.79,41.79" fill="#8c8d91" stroke="#8c8d91" stroke-width="1.0" stroke-linejoin="miter"/><polygon points="475.97,32.59 470.37,43.79 481.57,43.79" fill="#8c8d91" stroke="#8c8d91" stroke-width="1.0" stroke-linejoin="miter"/><polygon points="500.75,29.56 495.14,40.76 506.35,40.76" fill="#8c8d91" stroke="#8c8d91" stroke-width="1.0" stroke-linejoin="miter"/><polygon points="525.52,29.85 519.92,41.05 531.12,41.05" fill="#8c8d91" stroke="#8c8d91" stroke-width="1.0" stroke-linejoin="miter"/></g>
<rect x="54.75" y="5.9" width="495.55" height="369.4" fill="none" stroke="#111" stroke-width="1.4"/>
<line x1="54.75" y1="375.3" x2="54.75" y2="380.3" stroke="#111" stroke-width="1.4"/>
<line x1="79.53" y1="375.3" x2="79.53" y2="378.3" stroke="#111" stroke-width="1.4"/>
<line x1="104.3" y1="375.3" x2="104.3" y2="378.3" stroke="#111" stroke-width="1.4"/>
<line x1="129.08" y1="375.3" x2="129.08" y2="378.3" stroke="#111" stroke-width="1.4"/>
<line x1="153.86" y1="375.3" x2="153.86" y2="378.3" stroke="#111" stroke-width="1.4"/>
<line x1="178.64" y1="375.3" x2="178.64" y2="380.3" stroke="#111" stroke-width="1.4"/>
<line x1="203.41" y1="375.3" x2="203.41" y2="378.3" stroke="#111" stroke-width="1.4"/>
<line x1="228.19" y1="375.3" x2="228.19" y2="378.3" stroke="#111" stroke-width="1.4"/>
<line x1="252.97" y1="375.3" x2="252.97" y2="378.3" stroke="#111" stroke-width="1.4"/>
<line x1="277.75" y1="375.3" x2="277.75" y2="378.3" stroke="#111" stroke-width="1.4"/>
<line x1="302.52" y1="375.3" x2="302.52" y2="380.3" stroke="#111" stroke-width="1.4"/>
<line x1="327.3" y1="375.3" x2="327.3" y2="378.3" stroke="#111" stroke-width="1.4"/>
<line x1="352.08" y1="375.3" x2="352.08" y2="378.3" stroke="#111" stroke-width="1.4"/>
<line x1="376.86" y1="375.3" x2="376.86" y2="378.3" stroke="#111" stroke-width="1.4"/>
<line x1="401.63" y1="375.3" x2="401.63" y2="378.3" stroke="#111" stroke-width="1.4"/>
<line x1="426.41" y1="375.3" x2="426.41" y2="380.3" stroke="#111" stroke-width="1.4"/>
<line x1="451.19" y1="375.3" x2="451.19" y2="378.3" stroke="#111" stroke-width="1.4"/>
<line x1="475.97" y1="375.3" x2="475.97" y2="378.3" stroke="#111" stroke-width="1.4"/>
<line x1="500.75" y1="375.3" x2="500.75" y2="378.3" stroke="#111" stroke-width="1.4"/>
<line x1="525.52" y1="375.3" x2="525.52" y2="378.3" stroke="#111" stroke-width="1.4"/>
<line x1="550.3" y1="375.3" x2="550.3" y2="380.3" stroke="#111" stroke-width="1.4"/>
<line x1="49.75" y1="375.3" x2="54.75" y2="375.3" stroke="#111" stroke-width="1.4"/>
<line x1="51.75" y1="338.36" x2="54.75" y2="338.36" stroke="#111" stroke-width="1.4"/>
<line x1="49.75" y1="301.42" x2="54.75" y2="301.42" stroke="#111" stroke-width="1.4"/>
<line x1="51.75" y1="264.48" x2="54.75" y2="264.48" stroke="#111" stroke-width="1.4"/>
<line x1="49.75" y1="227.54" x2="54.75" y2="227.54" stroke="#111" stroke-width="1.4"/>
<line x1="51.75" y1="190.6" x2="54.75" y2="190.6" stroke="#111" stroke-width="1.4"/>
<line x1="49.75" y1="153.66" x2="54.75" y2="153.66" stroke="#111" stroke-width="1.4"/>
<line x1="51.75" y1="116.72" x2="54.75" y2="116.72" stroke="#111" stroke-width="1.4"/>
<line x1="49.75" y1="79.78" x2="54.75" y2="79.78" stroke="#111" stroke-width="1.4"/>
<line x1="51.75" y1="42.84" x2="54.75" y2="42.84" stroke="#111" stroke-width="1.4"/>
<line x1="49.75" y1="5.9" x2="54.75" y2="5.9" stroke="#111" stroke-width="1.4"/>
<text x="54.75" y="398" font-size="17.6" text-anchor="middle">−20</text>
<text x="178.64" y="398" font-size="17.6" text-anchor="middle">−10</text>
<text x="302.52" y="398" font-size="17.6" text-anchor="middle">0</text>
<text x="426.41" y="398" font-size="17.6" text-anchor="middle">10</text>
<text x="550.3" y="398" font-size="17.6" text-anchor="middle">20</text>
<text x="44.8" y="381.7" font-size="17.6" text-anchor="end">0.5</text>
<text x="44.8" y="307.82" font-size="17.6" text-anchor="end">0.6</text>
<text x="44.8" y="233.94" font-size="17.6" text-anchor="end">0.7</text>
<text x="44.8" y="160.06" font-size="17.6" text-anchor="end">0.8</text>
<text x="44.8" y="86.18" font-size="17.6" text-anchor="end">0.9</text>
<text x="44.8" y="12.3" font-size="17.6" text-anchor="end">1.0</text>
<text x="302.5" y="420.1" font-size="17.6" text-anchor="middle">SNR (dB)</text>
<g transform="translate(12.9,207.7) rotate(-90)"><text x="0" y="0" font-size="18" style="font-family:'Liberation Sans',sans-serif;font-style:italic">P<tspan font-size="13.5" dy="2.9">acc</tspan></text></g>
<rect x="312.9" y="144.3" width="227.7" height="221" rx="4" ry="4" fill="#fff" fill-opacity="0.8" stroke="#cccccc" stroke-width="1.3"/>
<line x1="319.6" y1="158.6" x2="358.6" y2="158.6" stroke="#1f77b4" stroke-width="2.0"/>
<circle cx="339" cy="158.6" r="5.4" fill="#1f77b4" stroke="#1f77b4" stroke-width="1.0" stroke-linejoin="miter"/>
<text x="372.3" y="164.8" font-size="19">CA-WSSNet</text>
<line x1="319.6" y1="185.6" x2="358.6" y2="185.6" stroke="#ff7f0e" stroke-width="2.0"/>
<polygon points="339,191.2 333.4,180 344.6,180" fill="#ff7f0e" stroke="#ff7f0e" stroke-width="1.0" stroke-linejoin="miter"/>
<text x="372.3" y="191.8" font-size="19">PCA-WSSNet</text>
<line x1="319.6" y1="212.6" x2="358.6" y2="212.6" stroke="#2ca02c" stroke-width="2.0"/>
<polygon points="339,207.5 340.15,211.02 343.85,211.02 340.85,213.2 342,216.73 339,214.55 336,216.73 337.15,213.2 334.15,211.02 337.85,211.02" fill="#2ca02c" stroke="#2ca02c" stroke-width="1.5" stroke-linejoin="bevel"/>
<text x="372.3" y="218.8" font-size="19">MLP-WSSNet</text>
<line x1="319.6" y1="239.6" x2="358.6" y2="239.6" stroke="#d62728" stroke-width="2.0"/>
<polygon points="339,233.7 344.61,237.78 342.47,244.37 335.53,244.37 333.39,237.78" fill="#d62728" stroke="#d62728" stroke-width="1.0" stroke-linejoin="miter"/>
<text x="372.3" y="245.8" font-size="19">DeepSense</text>
<line x1="319.6" y1="266.6" x2="358.6" y2="266.6" stroke="#9467bd" stroke-width="2.0"/>
<polygon points="344.6,266.6 333.4,261 333.4,272.2" fill="#9467bd" stroke="#9467bd" stroke-width="1.0" stroke-linejoin="miter"/>
<text x="372.3" y="272.8" font-size="19">Pruned DeepSense</text>
<line x1="319.6" y1="293.6" x2="358.6" y2="293.6" stroke="#8c564b" stroke-width="2.0"/>
<polygon points="339,287 345.6,293.6 339,300.2 332.4,293.6" fill="#8c564b" stroke="#8c564b" stroke-width="1.0" stroke-linejoin="miter"/>
<text x="372.3" y="299.8" font-size="19">Parallel-CNN</text>
<line x1="319.6" y1="320.6" x2="358.6" y2="320.6" stroke="#e377c2" stroke-width="2.0"/>
<polygon points="333.4,320.6 344.6,315 344.6,326.2" fill="#e377c2" stroke="#e377c2" stroke-width="1.0" stroke-linejoin="miter"/>
<text x="372.3" y="326.8" font-size="19">Pruned Parallel-CNN</text>
<line x1="319.6" y1="347.6" x2="358.6" y2="347.6" stroke="#8c8d91" stroke-width="2.0"/>
<polygon points="339,342 333.4,353.2 344.6,353.2" fill="#8c8d91" stroke="#8c8d91" stroke-width="1.0" stroke-linejoin="miter"/>
<text x="372.3" y="353.8" font-size="19">SOMP</text>
</svg></body></html>
